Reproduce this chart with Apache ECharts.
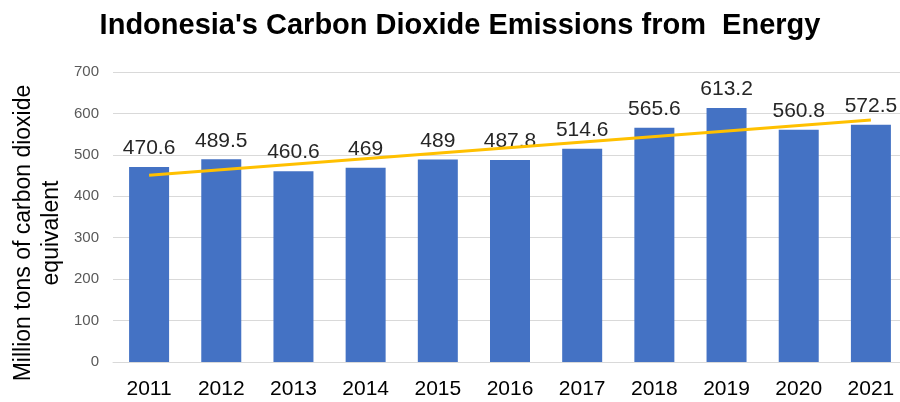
<!DOCTYPE html>
<html><head><meta charset="utf-8">
<script src="https://cdn.jsdelivr.net/npm/echarts@6/dist/echarts.min.js"></script>
<style>html,body{margin:0;padding:0;background:#fff}#c{width:900px;height:402px}</style>
</head><body><div id="c"></div>
<script>
var years = ['2011','2012','2013','2014','2015','2016','2017','2018','2019','2020','2021'];
var emissions = [470.6, 489.5, 460.6, 469, 489, 487.8, 514.6, 565.6, 613.2, 560.8, 572.5];
var trendYears = ['2011','2021'];
var trendValues = [450.7, 584.4];
var yTicks = [0, 100, 200, 300, 400, 500, 600, 700];

var chart = echarts.init(document.getElementById('c'));
chart.setOption({
  animation: false,
  title: {
    text: "Indonesia's Carbon Dioxide Emissions from  Energy",
    left: 455, top: 6, textAlign: 'center',
    textStyle: {fontFamily: 'Liberation Sans, Arial', fontWeight: 'bold', fontSize: 29, color: '#000'}
  },
  graphic: [{
    type: 'text', x: 38, y: 233, rotation: Math.PI / 2,
    style: {
      text: 'Million tons of carbon dioxide\nequivalent',
      align: 'center', verticalAlign: 'middle',
      fontFamily: 'Liberation Sans, Arial', fontSize: 23, lineHeight: 28, fill: '#000'
    }
  }],
  grid: {left: 113, width: 794, top: 72, bottom: 40, outerBoundsMode: 'none', containLabel: false},
  xAxis: {
    type: 'category', data: years,
    axisTick: {show: false},
    axisLine: {lineStyle: {color: '#d9d9d9', width: 1}},
    axisLabel: {fontFamily: 'Liberation Sans, Arial', fontSize: 21, color: '#000', margin: 17}
  },
  yAxis: {
    type: 'value', min: yTicks[0], max: yTicks[yTicks.length-1], interval: 100,
    axisLine: {show: false}, axisTick: {show: false},
    splitLine: {lineStyle: {color: '#d9d9d9', width: 1}},
    axisLabel: {fontFamily: 'Liberation Sans, Arial', fontSize: 15, color: '#595959', margin: 14}
  },
  series: [{
    type: 'bar', data: emissions, barWidth: 40,
    itemStyle: {color: '#4472C4'},
    label: {show: true, position: 'top', distance: 8, fontFamily: 'Liberation Sans, Arial', fontSize: 21, color: '#262626'}
  }, {
    type: 'line', data: trendYears.map(function(y, i){ return [y, trendValues[i]]; }),
    symbol: 'none', lineStyle: {color: '#FFC000', width: 3}, z: 5
  }]
});
</script></body></html>
